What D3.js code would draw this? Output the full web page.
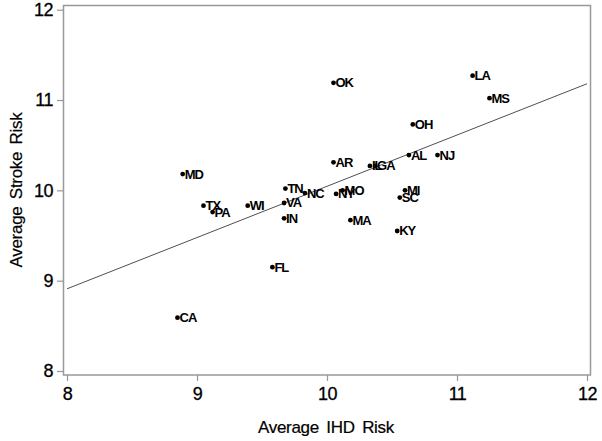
<!DOCTYPE html>
<html><head><meta charset="utf-8">
<script src="https://cdn.jsdelivr.net/npm/d3@7"></script>
<style>body{margin:0;background:#fff}svg{display:block}</style>
</head><body>
<script>
const states = ["OK","LA","MS","OH","AL","NJ","AR","IL","GA","MD","TN","NC","MO","NY","MI","SC","TX","PA","WI","VA","IN","MA","KY","FL","CA"];
const ihd =    [10.05,11.12,11.25,10.66,10.63,10.85,10.05,10.33,10.37,8.89,9.68,9.83,10.12,10.07,10.60,10.56,9.05,9.12,9.39,9.67,9.67,10.18,10.54,9.58,8.85];
const stroke = [11.19,11.27,11.02,10.73,10.39,10.39,10.31,10.27,10.27,10.18,10.02,9.97,10.00,9.96,10.00,9.92,9.83,9.76,9.83,9.86,9.69,9.67,9.55,9.15,8.59];
const fitLine = [[8, 8.91],[12, 11.18]];
const xTicks = [8,9,10,11,12];
const yTicks = [8,9,10,11,12];

const W=602,H=441;
const svg=d3.select("body").append("svg").attr("width",W).attr("height",H);
const x=d3.scaleLinear().domain([8,12]).range([67,587]);
const y=d3.scaleLinear().domain([8,12]).range([371,9.7]);

svg.append("rect").attr("x",63.5).attr("y",5.5).attr("width",527).attr("height",369.5)
  .attr("fill","none").attr("stroke","#999").attr("stroke-width",1.5);

const xa=svg.append("g").attr("transform","translate(0,375)")
  .call(d3.axisBottom(x).tickValues(xTicks).tickSize(6).tickPadding(6).tickFormat(d3.format("d")));
const ya=svg.append("g").attr("transform","translate(63,0)")
  .call(d3.axisLeft(y).tickValues(yTicks).tickSize(6).tickPadding(4).tickFormat(d3.format("d")));
[xa,ya].forEach(a=>{
  a.select(".domain").remove();
  a.selectAll("line").attr("stroke","#999").attr("stroke-width",1.2);
  a.selectAll("text").attr("font-family","Liberation Sans, Arial, sans-serif").attr("font-size",18)
   .attr("fill","#000").attr("stroke","#000").attr("stroke-width",0.3).attr("letter-spacing",-0.5);
});

svg.append("line").attr("x1",x(fitLine[0][0])).attr("y1",y(fitLine[0][1]))
  .attr("x2",x(fitLine[1][0])).attr("y2",y(fitLine[1][1]))
  .attr("stroke","#222").attr("stroke-width",0.8);

const data=states.map((s,i)=>({s,x:ihd[i],y:stroke[i]}));
const g=svg.append("g");
g.selectAll("circle").data(data).join("circle")
  .attr("cx",d=>x(d.x)).attr("cy",d=>y(d.y)).attr("r",2.4).attr("fill","#000");
g.selectAll("text").data(data).join("text")
  .attr("x",d=>x(d.x)+2).attr("y",d=>y(d.y)+4.5)
  .attr("font-family","Liberation Sans, Arial, sans-serif").attr("font-size",13)
  .attr("font-weight","bold").attr("letter-spacing",-1).attr("fill","#000")
  .text(d=>d.s);

svg.append("text").attr("x",326).attr("y",433).attr("text-anchor","middle")
  .attr("font-family","Liberation Sans, Arial, sans-serif").attr("font-size",17).attr("word-spacing",3)
  .attr("letter-spacing",-0.3).attr("stroke","#000").attr("stroke-width",0.2)
  .text("Average IHD Risk");
svg.append("text").attr("transform","translate(22,190) rotate(-90)").attr("text-anchor","middle")
  .attr("font-family","Liberation Sans, Arial, sans-serif").attr("font-size",17).attr("word-spacing",3)
  .attr("letter-spacing",-0.3).attr("stroke","#000").attr("stroke-width",0.2)
  .text("Average Stroke Risk");
</script>
</body></html>
